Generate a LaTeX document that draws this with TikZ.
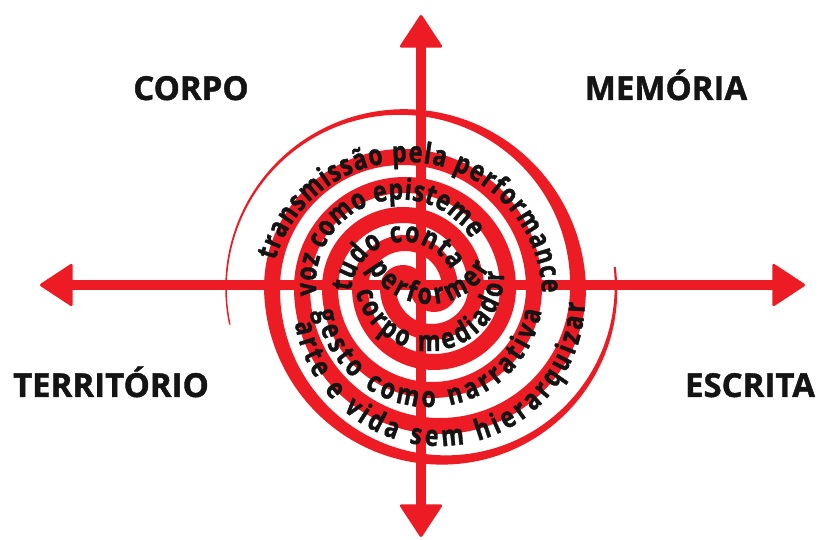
\documentclass[tikz,border=0pt]{standalone}
\usepackage{fontspec}
\setmainfont{Open Sans}
\newfontfamily\espiralfam{Open Sans}[FakeStretch=0.8,FakeBold=1.2]
\newfontfamily\rotulofam{Open Sans}[FakeBold=1.2]
\usetikzlibrary{arrows.meta,decorations.text}
\definecolor{alvo}{RGB}{237,28,36}
\definecolor{tinta}{RGB}{20,20,20}
\newcommand\fonterotulo{\rotulofam\fontsize{33pt}{33pt}\selectfont\bfseries}
\newcommand\fonteespiral{\espiralfam\fontsize{29pt}{29pt}\selectfont\bfseries}
\tikzset{
  rotulo/.style={font=\fonterotulo, text=tinta, inner sep=0pt, anchor=base},
  eixo/.style={alvo, line width=10pt,
    {Triangle[width=44pt,length=34pt,round,line width=3pt]}-{Triangle[width=44pt,length=34pt,round,line width=3pt]}},
  faixa/.style={alvo, line width=16pt},
  frase/.style={decorate, decoration={text along path, text align=fit to path,
    text color=tinta, text={#1}}},
  declare function={wa(\t)=16-14*(\t-180)/187; wb(\t)=1.5+14.5*(1-\t/192)^2;},
  every picture/.style={line cap=round, line join=round}
}

\begin{document}
\begin{tikzpicture}[x=1pt,y=1pt]
  \fill[white] (0,0) rectangle (823,540);
  \useasboundingbox (0,0) rectangle (823,540);

  % spiral, two arms from the middle
  \coordinate (J) at (418,252);
  \draw[faixa] (J) arc[start angle=0,end angle=180,radius=15]
    arc[start angle=180,end angle=360,radius=44]
    arc[start angle=0,end angle=180,radius=73]
    arc[start angle=180,end angle=360,radius=102]
    arc[start angle=0,end angle=180,radius=131];
  \draw[faixa] (J) arc[start angle=180,end angle=360,radius=16]
    arc[start angle=0,end angle=180,radius=45]
    arc[start angle=180,end angle=360,radius=74]
    arc[start angle=0,end angle=180,radius=103]
    arc[start angle=180,end angle=360,radius=138];
  % thin outer ends
  \fill[alvo] plot[domain=180:367,samples=90] ({444+(172+wa(\x)/2)*cos(\x)},{252+(172+wa(\x)/2)*sin(\x)})
    -- plot[domain=367:180,samples=90] ({444+(172-wa(\x)/2)*cos(\x)},{252+(172-wa(\x)/2)*sin(\x)}) -- cycle;
  \fill[alvo] plot[domain=0:192,samples=90] ({402+(176+wb(\x)/2)*cos(\x)},{252+(176+wb(\x)/2)*sin(\x)})
    -- plot[domain=192:0,samples=90] ({402+(176-wb(\x)/2)*cos(\x)},{252+(176-wb(\x)/2)*sin(\x)}) -- cycle;

  % axes
  \coordinate (oeste) at (40,255);
  \coordinate (leste) at (805,255);
  \coordinate (norte) at (421,525);
  \coordinate (sul) at (421,3);
  \draw[eixo] (oeste) -- (leste);
  \draw[eixo] (sul) -- (norte);

  % words on the spiral
  \path[frase={|\fonteespiral|transmissão pela performance}] (406,242) ++(164:136) arc[start angle=164,end angle=2,radius=136];
  \path[frase={|\fonteespiral|voz como episteme}] (400,256.5) ++(188:84) arc[start angle=188,end angle=32,radius=84];
  \path[frase={|\fonteespiral|tudo conta}] (404,245) ++(176:53) arc[start angle=176,end angle=28,radius=53];
  \path[frase={|\fonteespiral|performer}] (429,305) ++(208:69) arc[start angle=208,end angle=332,radius=69];
  \path[frase={|\fonteespiral|corpo mediador}] (429,264) ++(192:75) arc[start angle=192,end angle=364,radius=75];
  \path[frase={|\fonteespiral|gesto como narrativa}] (429,247) ++(189:114) arc[start angle=189,end angle=351,radius=114];
  \path[frase={|\fonteespiral|arte e vida sem hierarquizar}] (439,240) ++(189:146) arc[start angle=189,end angle=359,radius=146];

  % corner words
  \node[rotulo] (corpo) at (191,440) {CORPO};
  \node[rotulo] (memoria) at (666,440) {MEMÓRIA};
  \node[rotulo] (territorio) at (111,143) {TERRITÓRIO};
  \node[rotulo] (escrita) at (750,143) {ESCRITA};
\end{tikzpicture}
\end{document}
